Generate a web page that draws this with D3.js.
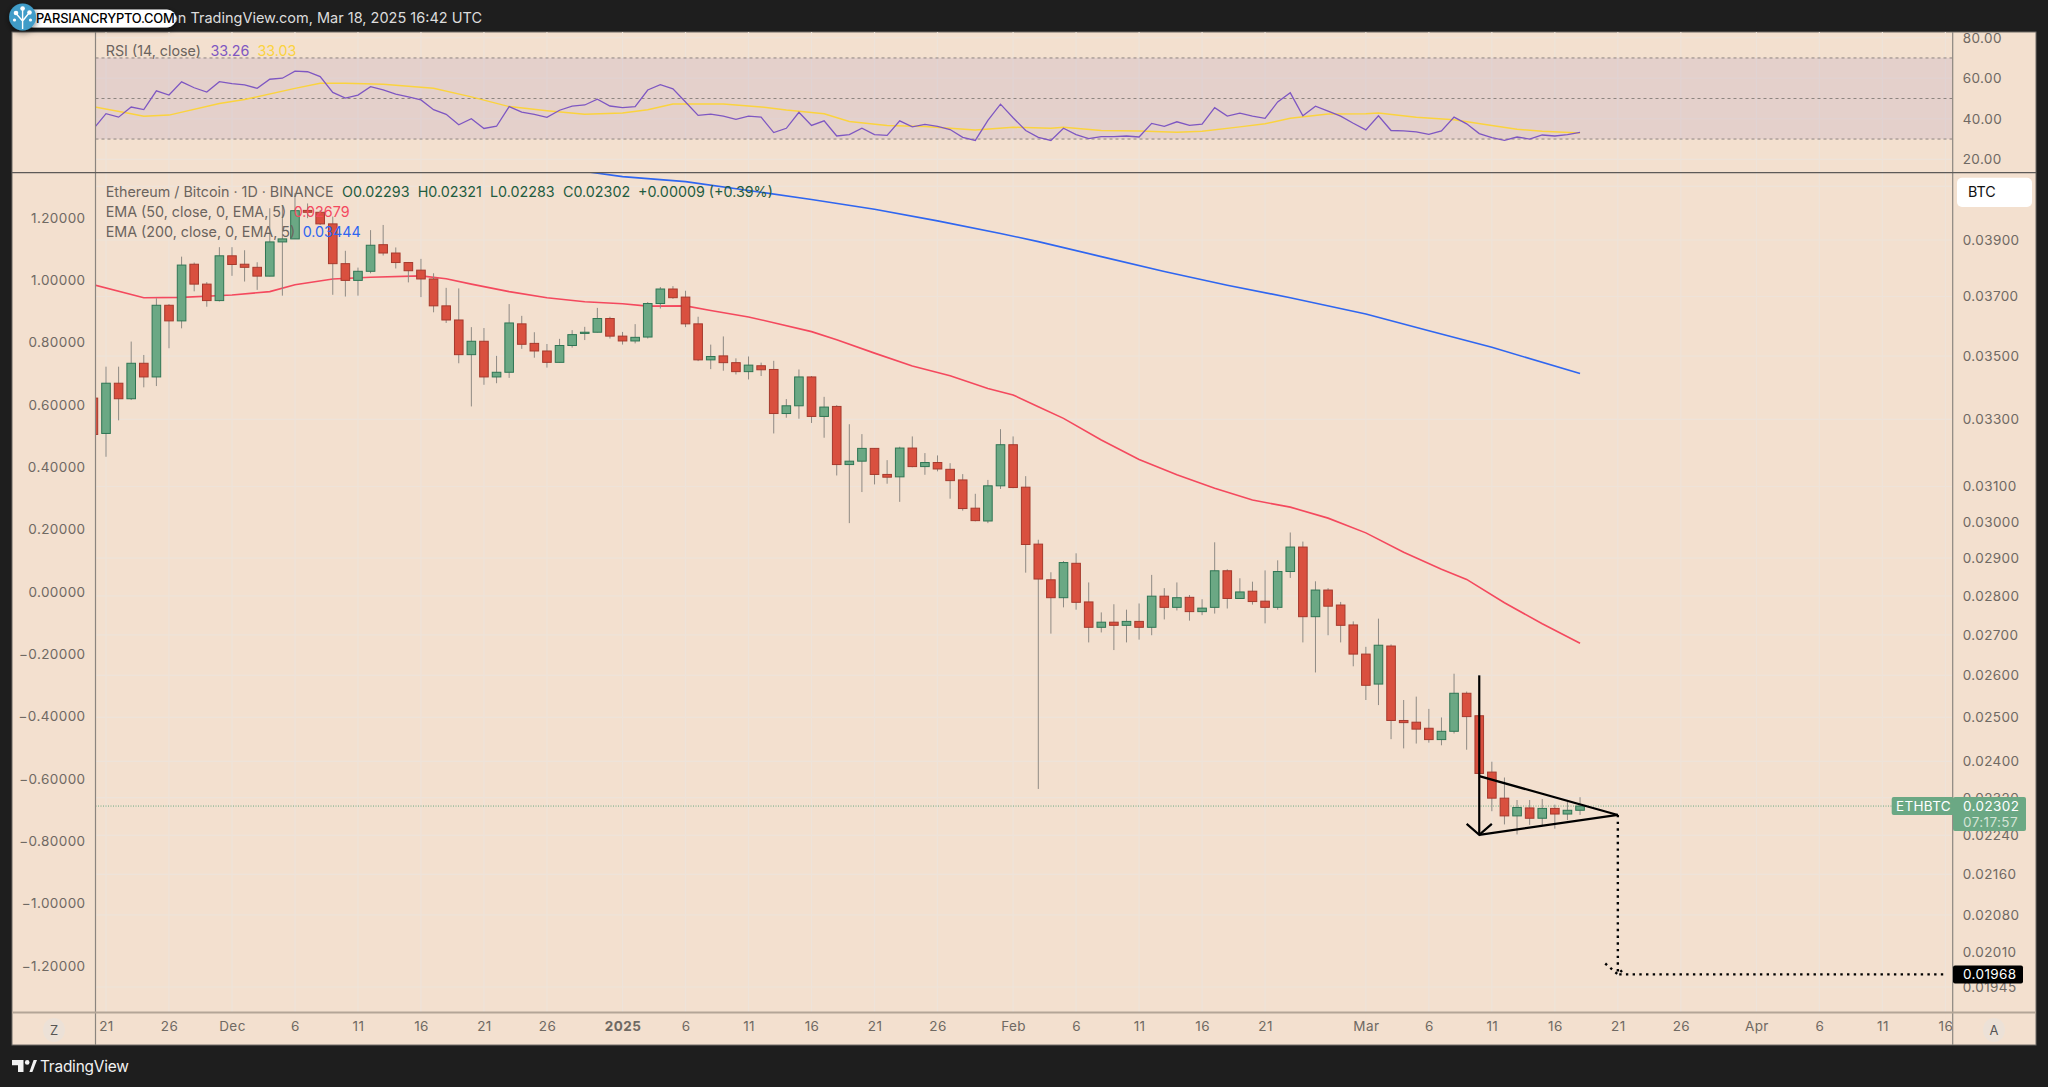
<!DOCTYPE html>
<html>
<head>
<meta charset="utf-8">
<script src="https://cdn.jsdelivr.net/npm/d3@7"></script>
<style>
  html, body { margin: 0; padding: 0; background: #1e1e1e; }
  svg { display: block; }
  text { font-family: "Inter", "Liberation Sans", sans-serif; }
</style>
</head>
<body>
<div id="chart-wrapper"></div>
<script>
// Daily candles, 2024-11-20 to 2025-03-18
const firstDay = "2024-11-20";
const lastDay = "2025-03-18";

const opens = [
  0.03366,0.03257,0.03413,0.03364,0.03477,0.03433,0.03670,0.03617,0.03813,0.03743,0.03686,
  0.03843,0.03813,0.03802,0.03771,0.03893,0.03904,0.04009,0.04002,0.03959,0.03815,0.03756,0.03788,0.03883,0.03853,0.03819,0.03792,0.03761,0.03668,0.03620,0.03505,0.03549,0.03433,0.03448,0.03607,0.03542,0.03517,0.03480,0.03535,0.03575,0.03579,0.03625,
  0.03566,0.03550,0.03563,0.03676,0.03726,0.03698,0.03607,0.03488,0.03501,0.03479,0.03450,0.03469,0.03457,0.03318,0.03342,0.03433,0.03309,0.03340,0.03164,0.03174,0.03212,0.03135,0.03128,0.03213,0.03158,0.03170,0.03150,0.03119,0.03038,0.03002,0.03102,
  0.03223,0.03098,0.02938,0.02842,0.02795,0.02886,0.02784,0.02719,0.02732,0.02724,0.02734,0.02719,0.02799,0.02770,0.02796,0.02759,0.02770,0.02866,0.02793,0.02812,0.02786,0.02770,0.02864,0.02930,0.02746,0.02815,0.02776,0.02725,
  0.02652,0.02579,0.02672,0.02493,0.02489,0.02475,0.02449,0.02468,0.02557,0.02504,0.02376,0.02319,0.02281,0.02298,0.02276,0.02297,0.02285,0.02293
];
const highs = [
  0.03381,0.03466,0.03466,0.03548,0.03504,0.03694,0.03674,0.03840,0.03819,0.03750,0.03874,
  0.03874,0.03863,0.03820,0.04017,0.04029,0.04074,0.04035,0.04010,0.03986,0.03861,0.03801,0.03936,0.03955,0.03873,0.03821,0.03832,0.03781,0.03730,0.03728,0.03596,0.03593,0.03501,0.03674,0.03634,0.03579,0.03540,0.03557,0.03586,0.03597,0.03661,0.03631,
  0.03580,0.03606,0.03681,0.03733,0.03736,0.03720,0.03631,0.03538,0.03565,0.03493,0.03499,0.03479,0.03485,0.03363,0.03457,0.03436,0.03370,0.03344,0.03285,0.03255,0.03213,0.03177,0.03217,0.03248,0.03198,0.03191,0.03168,0.03136,0.03079,0.03119,0.03270,
  0.03248,0.03130,0.02950,0.02862,0.02892,0.02913,0.02835,0.02757,0.02778,0.02764,0.02780,0.02855,0.02820,0.02835,0.02802,0.02791,0.02943,0.02870,0.02846,0.02837,0.02867,0.02894,0.02970,0.02945,0.02838,0.02820,0.02784,0.02734,
  0.02670,0.02741,0.02676,0.02541,0.02549,0.02520,0.02500,0.02604,0.02561,0.02510,0.02399,0.02364,0.02315,0.02315,0.02317,0.02305,0.02311,0.02321
];
const lows = [
  0.03247,0.03187,0.03297,0.03360,0.03400,0.03404,0.03526,0.03592,0.03718,0.03665,0.03683,
  0.03772,0.03752,0.03723,0.03770,0.03703,0.03904,0.03980,0.03955,0.03706,0.03700,0.03703,0.03781,0.03844,0.03798,0.03749,0.03698,0.03646,0.03610,0.03477,0.03340,0.03408,0.03413,0.03430,0.03524,0.03495,0.03463,0.03479,0.03528,0.03553,0.03578,0.03558,
  0.03538,0.03542,0.03558,0.03659,0.03692,0.03596,0.03484,0.03458,0.03453,0.03441,0.03425,0.03436,0.03257,0.03305,0.03302,0.03289,0.03244,0.03132,0.02996,0.03084,0.03106,0.03108,0.03056,0.03156,0.03134,0.03144,0.03065,0.03031,0.03001,0.02996,0.03093,
  0.03095,0.02861,0.02339,0.02703,0.02770,0.02764,0.02681,0.02706,0.02662,0.02681,0.02688,0.02699,0.02739,0.02762,0.02736,0.02750,0.02754,0.02767,0.02792,0.02777,0.02729,0.02764,0.02847,0.02681,0.02607,0.02699,0.02681,0.02622,
  0.02541,0.02529,0.02450,0.02429,0.02440,0.02442,0.02436,0.02463,0.02426,0.02362,0.02291,0.02263,0.02242,0.02262,0.02261,0.02254,0.02272,0.02283
];
const closes = [
  0.03254,0.03413,0.03364,0.03477,0.03433,0.03670,0.03617,0.03810,0.03743,0.03686,0.03843,
  0.03812,0.03802,0.03771,0.03893,0.03904,0.04008,0.04002,0.03959,0.03815,0.03756,0.03788,0.03881,0.03853,0.03819,0.03790,0.03761,0.03668,0.03620,0.03505,0.03549,0.03433,0.03448,0.03610,0.03539,0.03517,0.03480,0.03535,0.03571,0.03579,0.03625,0.03566,
  0.03550,0.03562,0.03676,0.03726,0.03696,0.03607,0.03488,0.03499,0.03479,0.03450,0.03471,0.03456,0.03318,0.03342,0.03433,0.03309,0.03338,0.03164,0.03174,0.03212,0.03135,0.03127,0.03213,0.03158,0.03170,0.03151,0.03117,0.03037,0.03003,0.03102,0.03223,
  0.03097,0.02937,0.02844,0.02795,0.02888,0.02783,0.02719,0.02732,0.02724,0.02734,0.02719,0.02799,0.02770,0.02795,0.02759,0.02768,0.02866,0.02793,0.02810,0.02785,0.02770,0.02864,0.02930,0.02746,0.02815,0.02773,0.02724,0.02652,
  0.02576,0.02674,0.02493,0.02488,0.02473,0.02449,0.02468,0.02557,0.02502,0.02373,0.02319,0.02281,0.02299,0.02276,0.02297,0.02285,0.02293,0.02302
];

// RSI, same days as the candles
const rsiValues = [
  35,42.5,40.8,45.8,44.5,53.8,51.7,58.2,55.3,53.2,58.3,
  57.3,56.7,55,59.5,60,63.5,63.2,60.8,53,50.2,51.7,55.8,54.2,52.2,50.8,49.3,44.5,42.2,37,40,35.2,36.3,46,43.3,42.2,40.7,44.2,46.2,46.8,49.7,46.3,
  45.5,46,54.2,56.8,54.8,48.3,41.7,42.3,41.3,39.7,41.3,40.8,33.2,35.3,43.2,36.7,39,31.5,32.2,35.3,32.2,31.8,39,36,37.2,36.2,34.7,30.8,29.3,39.2,47.2,
  40.5,34.2,30.8,29.3,35.3,32.2,30.2,31.2,31.2,31.5,31,37.7,36.3,38.5,36.7,37.3,45.5,41.3,42.8,41.3,40.2,48.3,52.8,41.5,46.2,43.8,41.3,37.8,
  34.5,41.5,34.2,34,33.5,32.3,34,40.8,37.5,32.7,30.7,29.3,31,30,32,31.5,32.2,33.26
];
const rsiMaDates = ["2024-11-20","2024-11-23","2024-11-24","2024-11-26","2024-11-30","2024-12-02","2024-12-06","2024-12-08","2024-12-10","2024-12-13","2024-12-17","2024-12-20","2024-12-23","2024-12-26","2024-12-29","2025-01-01","2025-01-03","2025-01-05","2025-01-09","2025-01-12","2025-01-14","2025-01-17","2025-01-19","2025-01-22","2025-01-25","2025-01-27","2025-01-29","2025-02-01","2025-02-04","2025-02-05","2025-02-08","2025-02-11","2025-02-14","2025-02-16","2025-02-19","2025-02-21","2025-02-23","2025-02-26","2025-03-01","2025-03-02","2025-03-05","2025-03-08","2025-03-11","2025-03-13","2025-03-15","2025-03-18"];
const rsiMaValues = [46,42.5,41.3,41.8,47.5,49.5,55,57.5,57.5,57,55,50.8,46,44,42.2,42.8,44.5,47.3,47.3,45.8,44.3,42.5,38.7,36.7,36.2,35.3,34.5,35.8,35.3,35.8,34.2,34,33.3,33.8,36,37.5,40.2,42.3,42.5,42.8,40.8,39.5,36.7,34.8,33.8,33.03];

const ema50Dates = ["2024-11-20","2024-11-24","2024-11-27","2024-12-01","2024-12-04","2024-12-06","2024-12-09","2024-12-12","2024-12-16","2024-12-18","2024-12-20","2024-12-23","2024-12-26","2024-12-29","2025-01-01","2025-01-03","2025-01-06","2025-01-08","2025-01-11","2025-01-13","2025-01-16","2025-01-18","2025-01-21","2025-01-24","2025-01-27","2025-01-30","2025-02-01","2025-02-03","2025-02-05","2025-02-08","2025-02-11","2025-02-14","2025-02-17","2025-02-20","2025-02-23","2025-02-26","2025-03-01","2025-03-04","2025-03-07","2025-03-09","2025-03-12","2025-03-15","2025-03-18"];
const ema50Values = [0.03741,0.03696,0.03697,0.03705,0.03717,0.03741,0.03761,0.03767,0.03772,0.03762,0.03743,0.03717,0.03696,0.03682,0.03675,0.03667,0.03668,0.03652,0.03630,0.03611,0.03581,0.03554,0.03510,0.03468,0.03437,0.03396,0.03376,0.03339,0.03303,0.03237,0.03179,0.03134,0.03095,0.03061,0.03041,0.03010,0.02969,0.02916,0.02870,0.02843,0.02782,0.02728,0.02679];

const ema200Dates = ["2024-12-28","2025-01-01","2025-01-06","2025-01-11","2025-01-16","2025-01-21","2025-01-26","2025-01-31","2025-02-03","2025-02-08","2025-02-13","2025-02-18","2025-02-23","2025-03-01","2025-03-06","2025-03-11","2025-03-18"];
const ema200Values = [0.04164,0.04137,0.04118,0.04084,0.04050,0.04013,0.03970,0.03924,0.03894,0.03840,0.03787,0.03739,0.03696,0.03640,0.03584,0.03529,0.03444];

// Axis ticks and labels
const priceTicks = [0.039,0.037,0.035,0.033,0.031,0.030,0.029,0.028,0.027,0.026,0.025,0.024,0.0232,0.0224,0.0216,0.0208,0.0201,0.01945];
const gridPrices = [0.041,0.039,0.037,0.035,0.033,0.031,0.029,0.028,0.027,0.026,0.025,0.024,0.0232,0.0224,0.0216,0.0208,0.01945];
const leftTicks = [1.2,1,0.8,0.6,0.4,0.2,0,-0.2,-0.4,-0.6,-0.8,-1,-1.2];
const rsiTicks = [80,60,40,20];
const rsiBands = [70,50,30];
const timeTicks = ["2024-11-21","2024-11-26","2024-12-01","2024-12-06","2024-12-11","2024-12-16","2024-12-21","2024-12-26","2025-01-01","2025-01-06","2025-01-11","2025-01-16","2025-01-21","2025-01-26","2025-02-01","2025-02-06","2025-02-11","2025-02-16","2025-02-21","2025-03-01","2025-03-06","2025-03-11","2025-03-16","2025-03-21","2025-03-26","2025-04-01","2025-04-06","2025-04-11","2025-04-16"];
const timeLabels = ["21","26","Dec","6","11","16","21","26","2025","6","11","16","21","26","Feb","6","11","16","21","Mar","6","11","16","21","26","Apr","6","11","16"];

// Hand drawn pattern on the chart
const arrowLegDates = ["2025-03-09","2025-03-10","2025-03-11"];
const arrowLegPrices = [0.02264,0.02241,0.02264];
const shaftDates = ["2025-03-10","2025-03-10"];
const shaftPrices = [0.02600,0.02241];
const pennantDates = ["2025-03-10","2025-03-21","2025-03-10"];
const pennantPrices = [0.02367,0.02283,0.02241];
const targetDates = ["2025-03-21","2025-03-21","2025-04-16"];
const targetPrices = [0.02283,0.01968,0.01968];
const targetHeadDates = ["2025-03-20","2025-03-21","2025-03-21T14:00Z"];
const targetHeadPrices = [0.01988,0.01968,0.01981];

const lastPrice = 0.02302;
const targetPrice = 0.01968;

const width = 2048;
const height = 1087;
const panel = {left: 12, top: 32, right: 2036, bottom: 1045};
const plotLeft = 95.5;
const plotRight = 1952.7;
const sepY = 172.7;
const timeY = 1012.5;

const bgColor = "#f3e0cf";
const gridColor = "#eee3d9";
const axisText = "#6f6963";
const redFill = "#d9503f", redEdge = "#a63a2d";
const greenFill = "#6ba884", greenEdge = "#2f7554";
const wickColor = "#8f8a84";

const parse = s => new Date(s.length > 10 ? s : s + "T00:00:00Z");
const days = d3.utcDay.range(parse(firstDay), d3.utcDay.offset(parse(lastDay), 1));

// Scales
const x = d3.scaleUtc()
  .domain([parse("2024-11-21"), parse("2025-04-16")])
  .range([106, 1945.4]);
const yPrice = d3.scaleLog()
  .domain([0.01945, 0.039])
  .range([987, 240]);
const yLeft = d3.scaleLinear()
  .domain([-1.2, 1.2])
  .range([965.7, 218]);
const yRsi = d3.scaleLinear()
  .domain([20, 80])
  .range([159.3, 37.7]);

const svg = d3.select("#chart-wrapper").append("svg")
  .attr("width", width)
  .attr("height", height)
  .attr("viewBox", [0, 0, width, height]);

const defs = svg.append("defs");
defs.append("clipPath").attr("id", "main-clip").append("rect")
  .attr("x", plotLeft).attr("y", sepY)
  .attr("width", plotRight - plotLeft).attr("height", timeY - sepY);
defs.append("clipPath").attr("id", "rsi-clip").append("rect")
  .attr("x", plotLeft).attr("y", panel.top)
  .attr("width", plotRight - plotLeft).attr("height", sepY - panel.top);
const blur = defs.append("filter").attr("id", "badge-shadow")
  .attr("x", "-20%").attr("y", "-50%").attr("width", "140%").attr("height", "200%");
blur.append("feDropShadow").attr("dx", 0).attr("dy", 2).attr("stdDeviation", 3)
  .attr("flood-color", "#000").attr("flood-opacity", 0.55);

// Panel background
svg.append("rect")
  .attr("x", panel.left).attr("y", panel.top)
  .attr("width", panel.right - panel.left).attr("height", panel.bottom - panel.top)
  .attr("fill", bgColor)
  .attr("stroke", "#6e6a66");

// Grid
const gridG = svg.append("g").attr("fill", "none").attr("stroke", gridColor).attr("stroke-width", 1.2);
gridG.selectAll(".vgrid").data(timeTicks).enter().append("line")
  .attr("x1", d => x(parse(d))).attr("x2", d => x(parse(d)))
  .attr("y1", panel.top).attr("y2", timeY);
gridG.selectAll(".hgrid").data(gridPrices).enter().append("line")
  .attr("x1", plotLeft).attr("x2", plotRight)
  .attr("y1", d => yPrice(d)).attr("y2", d => yPrice(d));
gridG.selectAll(".rsigrid").data(rsiTicks).enter().append("line")
  .attr("x1", plotLeft).attr("x2", plotRight)
  .attr("y1", d => yRsi(d)).attr("y2", d => yRsi(d));

// RSI band sits over the grid so the lines stay faint
const rsiG = svg.append("g").attr("clip-path", "url(#rsi-clip)");
rsiG.append("rect")
  .attr("x", plotLeft).attr("width", plotRight - plotLeft)
  .attr("y", yRsi(70)).attr("height", yRsi(30) - yRsi(70))
  .attr("fill", "#967cb4")
  .attr("fill-opacity", 0.15);

rsiG.selectAll(".band").data(rsiBands).enter().append("line")
  .attr("x1", plotLeft).attr("x2", plotRight)
  .attr("y1", d => yRsi(d)).attr("y2", d => yRsi(d))
  .attr("stroke", "#8d8580")
  .attr("stroke-dasharray", "3,3");

// RSI lines
const rsiLine = d3.line().x(d => x(d[0])).y(d => yRsi(d[1]));
rsiG.append("path")
  .attr("d", rsiLine(rsiMaDates.map((d, i) => [parse(d), rsiMaValues[i]])))
  .attr("fill", "none").attr("stroke", "#fbd33e").attr("stroke-width", 1.5);
rsiG.append("path")
  .attr("d", rsiLine(days.map((d, i) => [d, rsiValues[i]])))
  .attr("fill", "none").attr("stroke", "#7e57c2").attr("stroke-width", 1.3);

// Main pane
const mainG = svg.append("g").attr("clip-path", "url(#main-clip)");

mainG.append("line")
  .attr("x1", plotLeft).attr("x2", plotRight)
  .attr("y1", yPrice(lastPrice)).attr("y2", yPrice(lastPrice))
  .attr("stroke", "#6ba884").attr("stroke-dasharray", "1,1.5");

const priceLine = d3.line().x(d => x(d[0])).y(d => yPrice(d[1]));
mainG.append("path")
  .attr("d", priceLine(ema200Dates.map((d, i) => [parse(d), ema200Values[i]])))
  .attr("fill", "none").attr("stroke", "#2f66f0").attr("stroke-width", 1.6);
mainG.append("path")
  .attr("d", priceLine(ema50Dates.map((d, i) => [parse(d), ema50Values[i]])))
  .attr("fill", "none").attr("stroke", "#f4495e").attr("stroke-width", 1.6);

// Candles
const bodyWidth = 8.6;
const candleData = days.map((d, i) => ({date: d, o: opens[i], h: highs[i], l: lows[i], c: closes[i]}));
mainG.selectAll(".wick").data(candleData).enter().append("line")
  .attr("x1", d => x(d.date)).attr("x2", d => x(d.date))
  .attr("y1", d => yPrice(d.h)).attr("y2", d => yPrice(d.l))
  .attr("stroke", wickColor).attr("stroke-width", 1);
mainG.selectAll(".body").data(candleData).enter().append("rect")
  .attr("x", d => x(d.date) - bodyWidth / 2)
  .attr("width", bodyWidth)
  .attr("y", d => yPrice(Math.max(d.o, d.c)))
  .attr("height", d => Math.max(1, Math.abs(yPrice(d.o) - yPrice(d.c))))
  .attr("fill", d => d.c >= d.o ? greenFill : redFill)
  .attr("stroke", d => d.c >= d.o ? greenEdge : redEdge)
  .attr("stroke-width", 1);

// Pattern drawing
const drawn = (dates, prices, dash) => mainG.append("path")
  .attr("d", priceLine(dates.map((d, i) => [parse(d), prices[i]])))
  .attr("fill", "none")
  .attr("stroke", "#000")
  .attr("stroke-width", dash ? 2.4 : 2.2)
  .attr("stroke-dasharray", dash ? "2.4,4.3" : null);
drawn(shaftDates, shaftPrices);
drawn(arrowLegDates, arrowLegPrices);
drawn(pennantDates, pennantPrices);
drawn(targetDates, targetPrices, true);
drawn(targetHeadDates, targetHeadPrices, true);

// Axes
const styleAxis = g => {
  g.select(".domain").remove();
  g.selectAll(".tick line").remove();
  g.selectAll("text")
    .attr("fill", axisText)
    .style("font-family", '"Inter", sans-serif')
    .style("font-size", "13.5px")
    .style("letter-spacing", "0.4px");
};

svg.append("g")
  .attr("transform", `translate(${plotRight + 1}, 0)`)
  .call(d3.axisRight(yPrice).tickValues(priceTicks).tickFormat(d3.format(".5f")).tickSize(0).tickPadding(9))
  .call(styleAxis);

svg.append("g")
  .attr("transform", `translate(${plotRight + 1}, 0)`)
  .call(d3.axisRight(yRsi).tickValues(rsiTicks).tickFormat(d3.format(".2f")).tickSize(0).tickPadding(9))
  .call(styleAxis);

svg.append("g")
  .attr("transform", `translate(${plotLeft - 10}, 0)`)
  .call(d3.axisLeft(yLeft).tickValues(leftTicks).tickFormat(d3.format(".5f")).tickSize(0).tickPadding(0))
  .call(styleAxis);

const timeAxis = svg.append("g")
  .attr("transform", `translate(0, ${timeY + 9})`)
  .call(d3.axisBottom(x)
    .tickValues(timeTicks.map(parse))
    .tickFormat((d, i) => timeLabels[i])
    .tickSize(0).tickPadding(0))
  .call(styleAxis);
timeAxis.selectAll("text")
  .style("font-weight", (d, i) => timeLabels[i] === "2025" ? 700 : 400);

// Frame lines
const frame = svg.append("g");
frame.append("line").attr("x1", plotLeft).attr("x2", plotLeft).attr("y1", panel.top).attr("y2", panel.bottom)
  .attr("stroke", "#8b857f").attr("stroke-width", 1.2);
frame.append("line").attr("x1", plotRight).attr("x2", plotRight).attr("y1", panel.top).attr("y2", panel.bottom)
  .attr("stroke", "#8b857f").attr("stroke-width", 1.2);
frame.append("line").attr("x1", panel.left).attr("x2", panel.right).attr("y1", sepY).attr("y2", sepY)
  .attr("stroke", "#5d5a58").attr("stroke-width", 1.3);
frame.append("line").attr("x1", panel.left).attr("x2", panel.right).attr("y1", timeY).attr("y2", timeY)
  .attr("stroke", "#b3a597").attr("stroke-width", 1.8);

// Legends
const label = (xPos, yPos, str, color, extra) => {
  const t = svg.append("text")
    .attr("x", xPos).attr("y", yPos)
    .attr("dy", "0.35em")
    .attr("fill", color)
    .style("font-size", "14.3px")
    .text(str);
  if (extra) extra(t);
  return t;
};
const legendGrey = "#6b645e";
const legendGreen = "#1f5c40";
label(105.7, 50.7, "RSI (14, close)", legendGrey);
label(210.4, 50.7, "33.26", "#7e57c2");
label(257.4, 50.7, "33.03", "#fbd33e");
label(105.7, 192, "Ethereum / Bitcoin · 1D · BINANCE", legendGrey);
label(342, 192, "O0.02293", legendGreen);
label(417.7, 192, "H0.02321", legendGreen);
label(490, 192, "L0.02283", legendGreen);
label(563, 192, "C0.02302", legendGreen);
label(638, 192, "+0.00009 (+0.39%)", legendGreen);
label(105.7, 212, "EMA (50, close, 0, EMA, 5)", legendGrey);
label(293.7, 212, "0.02679", "#f4495e");
label(105.7, 232, "EMA (200, close, 0, EMA, 5)", legendGrey);
label(302.7, 232, "0.03444", "#2f66f0");

// Price tags
const tag = (x0, y0, w, h, fill) => svg.append("rect")
  .attr("x", x0).attr("y", y0).attr("width", w).attr("height", h).attr("rx", 2).attr("fill", fill);

tag(1957, 177.7, 75, 29.3, "#fff").attr("rx", 5);
label(1968, 192, "BTC", "#111");

const lastY = yPrice(lastPrice);
tag(1891.7, lastY - 9, 62, 18, "#6ba884");
tag(1953, lastY - 9, 73, 34, "#6ba884");
label(1896, lastY, "ETHBTC", "#fff", t => t.style("font-size", "13.5px").style("letter-spacing", "0.3px"));
label(1963, lastY, "0.02302", "#fff", t => t.style("font-size", "13.5px").style("letter-spacing", "0.4px"));
label(1963, lastY + 16, "07:17:57", "#d4e4d6", t => t.style("font-size", "13.5px").style("letter-spacing", "0.4px"));

const targetY = yPrice(targetPrice);
tag(1953, targetY - 9, 70, 18, "#000");
label(1963, targetY, "0.01968", "#fff", t => t.style("font-size", "13.5px").style("letter-spacing", "0.4px"));

// Corner buttons
[[54, "Z"], [1994, "A"]].forEach(([cx, s]) => {
  svg.append("ellipse")
    .attr("cx", cx).attr("cy", 1030).attr("rx", 11).attr("ry", 12)
    .attr("fill", "#ece1d7");
  svg.append("text")
    .attr("x", cx).attr("y", 1030).attr("dy", "0.35em")
    .attr("text-anchor", "middle").attr("fill", "#555")
    .style("font-size", "13px").text(s);
});

// Header
svg.append("text")
  .attr("x", 482).attr("y", 18).attr("dy", "0.35em")
  .attr("text-anchor", "end").attr("fill", "#dcdcdc")
  .style("font-size", "14.5px")
  .text("on TradingView.com, Mar 18, 2025 16:42 UTC");

// Watermark badge
const badge = svg.append("g");
badge.append("rect")
  .attr("x", 24).attr("y", 9.5).attr("width", 152).attr("height", 18).attr("rx", 9)
  .attr("fill", "#fff")
  .attr("filter", "url(#badge-shadow)");
badge.append("text")
  .attr("x", 36).attr("y", 18.5).attr("dy", "0.35em")
  .attr("fill", "#000")
  .style("font-size", "12.9px").style("font-weight", 500).style("letter-spacing", "-0.2px")
  .text("PARSIANCRYPTO.COM");
badge.append("circle")
  .attr("cx", 22.6).attr("cy", 17).attr("r", 13.5)
  .attr("fill", "#3f9cc8")
  .attr("filter", "url(#badge-shadow)");
const tree = badge.append("g").attr("stroke", "#fff").attr("fill", "none").attr("stroke-width", 1.4);
tree.append("path").attr("d", "M22.6 29V17M22.6 21L16.5 14M22.6 21L29 13M22.6 17L22.6 9");
[[16, 13, 2.3], [29.5, 12.5, 2.3], [22.6, 8.5, 2.3], [14.5, 20, 1.6], [30.5, 20, 1.6]].forEach(c => {
  badge.append("circle").attr("cx", c[0]).attr("cy", c[1]).attr("r", c[2]).attr("fill", "#fff");
});

// TradingView footer
const logo = svg.append("g").attr("fill", "#f2f2f2");
logo.append("path").attr("d", "M12 1060H23.5V1072H18V1065.3H12Z");
logo.append("circle").attr("cx", 27.2).attr("cy", 1062.4).attr("r", 2.3);
logo.append("path").attr("d", "M29.4 1072L33.6 1060H37L32.4 1072Z");
svg.append("text")
  .attr("x", 40).attr("y", 1067).attr("dy", "0.35em")
  .attr("fill", "#f2f2f2")
  .style("font-size", "15.4px")
  .style("letter-spacing", "-0.2px")
  .text("TradingView");
</script>
</body>
</html>
